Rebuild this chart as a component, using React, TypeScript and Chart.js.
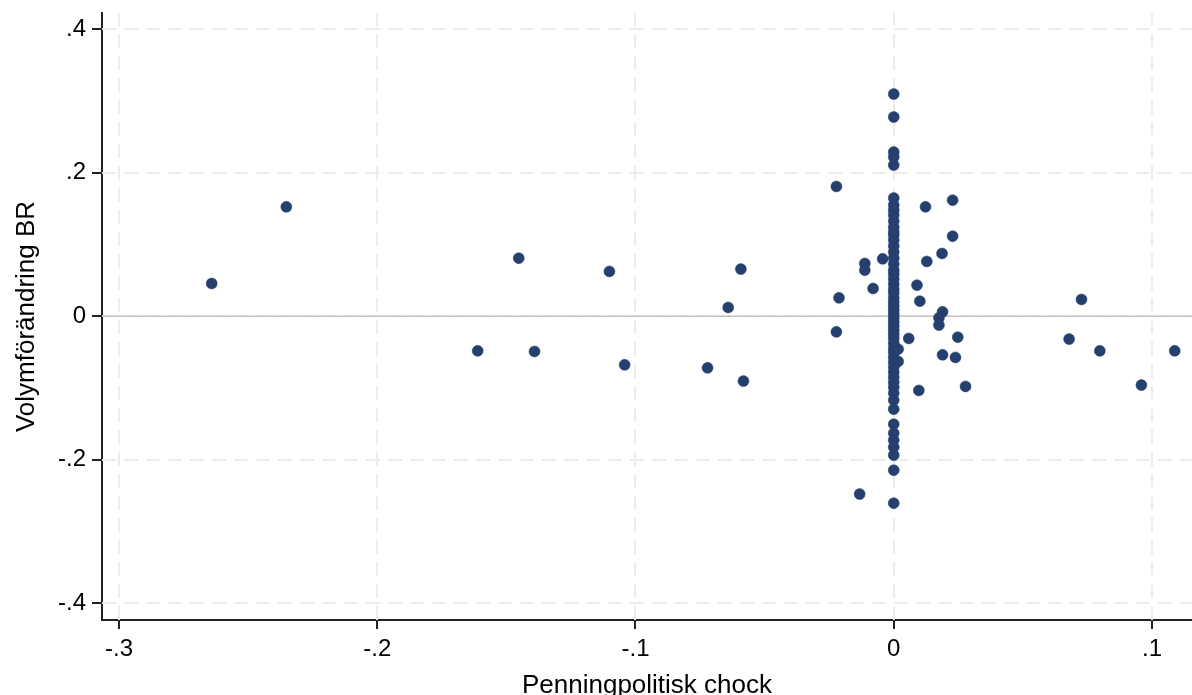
import React, { useEffect, useRef } from "react";
import { Chart, registerables } from "chart.js";

Chart.register(...registerables);

// Off-zero observations: monetary policy shock (x) and volume change (y)
const offZeroShock = [
  -0.2641, -0.2352, -0.1611, -0.1452, -0.1391, -0.1101, -0.1042, -0.0721, -0.0641, -0.0592,
  -0.0582, -0.0222, -0.0212, -0.0222, -0.0132, -0.0112, -0.0112, -0.008, -0.0043, 0.0017,
  0.0017, 0.0058, 0.009, 0.0101, 0.0097, 0.0123, 0.0128, 0.0187, 0.0228, 0.0228,
  0.0189, 0.0175, 0.0175, 0.0248, 0.0189, 0.0239, 0.0278, 0.0727, 0.0679, 0.0798,
  0.1088, 0.0959,
];
const offZeroVolume = [
  0.0455, 0.1523, -0.0483, 0.0808, -0.0492, 0.0623, -0.0678, -0.072, 0.0121, 0.0655,
  -0.0905, 0.1807, 0.0255, -0.0219, -0.2479, 0.0734, 0.0641, 0.0386, 0.0798, -0.046,
  -0.0631, -0.0311, 0.0432, 0.0209, -0.1035, 0.1523, 0.0762, 0.0873, 0.1616, 0.1114,
  0.006, -0.0024, -0.0125, -0.0293, -0.0539, -0.0575, -0.0979, 0.0233, -0.032, -0.0483,
  -0.0483, -0.0961,
];
// Observations with zero shock
const zeroShockVolume = [
  0.3094, 0.2774, 0.2286, 0.2216, 0.2104, 0.1645, 0.1547, 0.1477, 0.1408, 0.1324,
  0.124, 0.1171, 0.1129, 0.1059, 0.0976, 0.0892, 0.0808, 0.0725, 0.0641, 0.0585,
  0.0516, 0.0446, 0.0376, 0.0321, 0.0251, 0.0195, 0.0139, 0.0084, 0.0028, -0.0028,
  -0.0084, -0.0139, -0.0195, -0.0251, -0.0307, -0.0376, -0.0446, -0.0502, -0.0571, -0.0641,
  -0.0711, -0.078, -0.085, -0.092, -0.099, -0.1073, -0.1171, -0.1296, -0.1505, -0.1631,
  -0.1728, -0.1826, -0.1937, -0.2146, -0.2606,
];

const xTicks = [-0.3, -0.2, -0.1, 0, 0.1];
const yTicks = [-0.4, -0.2, 0, 0.2, 0.4];
const xTitle = "Penningpolitisk chock";
const yTitle = "Volymförändring BR";

const FONT = "'Liberation Sans', Arial, Helvetica, sans-serif";
const POINT = "#253f6e";
const AXIS = "#222222";

function fmt(v: number): string {
  if (Math.abs(v) < 1e-9) return "0";
  const s = Math.abs(v).toFixed(1).replace(/^0/, "");
  return (v < 0 ? "-" : "") + s;
}

const gridPlugin = {
  id: "stataGrid",
  beforeDatasetsDraw(chart: any) {
    const { ctx, chartArea, scales } = chart;
    const xs = scales.x;
    const ys = scales.y;
    ctx.save();
    ctx.beginPath();
    ctx.rect(chartArea.left, chartArea.top, chartArea.right - chartArea.left, chartArea.bottom - chartArea.top);
    ctx.clip();
    ctx.strokeStyle = "#ececec";
    ctx.lineWidth = 2;
    ctx.setLineDash([14, 8]);
    for (const v of xTicks) {
      const px = Math.round(xs.getPixelForValue(v));
      ctx.beginPath();
      ctx.moveTo(px, chartArea.bottom);
      ctx.lineTo(px, chartArea.top);
      ctx.stroke();
    }
    for (const v of yTicks) {
      const py = Math.round(ys.getPixelForValue(v));
      ctx.beginPath();
      ctx.moveTo(chartArea.left, py);
      ctx.lineTo(chartArea.right, py);
      ctx.stroke();
    }
    ctx.setLineDash([]);
    ctx.strokeStyle = "#c4c4c4";
    ctx.lineWidth = 1.5;
    const zy = ys.getPixelForValue(0);
    ctx.beginPath();
    ctx.moveTo(chartArea.left, zy);
    ctx.lineTo(chartArea.right, zy);
    ctx.stroke();
    ctx.restore();
  },
};

export default function App() {
  const ref = useRef<HTMLCanvasElement | null>(null);

  useEffect(() => {
    if (!ref.current) return;
    const points = [
      ...offZeroShock.map((x, i) => ({ x, y: offZeroVolume[i] })),
      ...zeroShockVolume.map((y) => ({ x: 0, y })),
    ];
    const chart = new Chart(ref.current, {
      type: "scatter",
      data: {
        datasets: [
          {
            data: points,
            backgroundColor: POINT,
            borderColor: POINT,
            borderWidth: 0.5,
            pointRadius: 5.5,
            pointHoverRadius: 5.5,
          },
        ],
      },
      plugins: [gridPlugin],
      options: {
        animation: false,
        responsive: true,
        maintainAspectRatio: false,
        layout: { autoPadding: false, padding: { top: 13, right: 0, bottom: 0, left: 0 } },
        plugins: { legend: { display: false }, tooltip: { enabled: false } },
        scales: {
          x: {
            type: "linear",
            min: -0.30658,
            max: 0.11549,
            afterBuildTicks: (axis: any) => {
              axis.ticks = xTicks.map((value) => ({ value }));
            },
            afterFit: (axis: any) => {
              axis.height = 75;
              axis.paddingLeft = 0;
              axis.paddingRight = 0;
            },
            grid: {
              display: true,
              drawOnChartArea: false,
              drawTicks: true,
              tickLength: 9,
              color: AXIS,
              lineWidth: 2,
            },
            border: { display: true, color: AXIS, width: 2 },
            ticks: {
              autoSkip: false,
              maxRotation: 0,
              padding: 6,
              color: "#000",
              font: { family: FONT, size: 24 },
              callback: (v: any) => fmt(Number(v)),
            },
            title: {
              display: true,
              text: xTitle,
              color: "#000",
              font: { family: FONT, size: 26, lineHeight: 1 },
              padding: { top: 0, bottom: -4 },
            },
          },
          y: {
            type: "linear",
            min: -0.4233,
            max: 0.4223,
            afterBuildTicks: (axis: any) => {
              axis.ticks = yTicks.map((value) => ({ value }));
            },
            afterFit: (axis: any) => {
              axis.width = 102;
              axis.paddingTop = 0;
              axis.paddingBottom = 0;
            },
            grid: {
              display: true,
              drawOnChartArea: false,
              drawTicks: true,
              tickLength: 10,
              color: AXIS,
              lineWidth: 2,
            },
            border: { display: true, color: AXIS, width: 2 },
            ticks: {
              autoSkip: false,
              padding: 6,
              color: "#000",
              font: { family: FONT, size: 24 },
              callback: (v: any) => fmt(Number(v)),
            },
            title: {
              display: true,
              text: yTitle,
              color: "#000",
              font: { family: FONT, size: 26, lineHeight: 1.2 },
              padding: { top: 11, bottom: 0 },
            },
          },
        },
      },
    });
    return () => chart.destroy();
  }, []);

  return (
    <div style={{ position: "fixed", left: 0, top: 0, width: 1192, height: 695, background: "#fff" }}>
      <canvas ref={ref} />
    </div>
  );
}
